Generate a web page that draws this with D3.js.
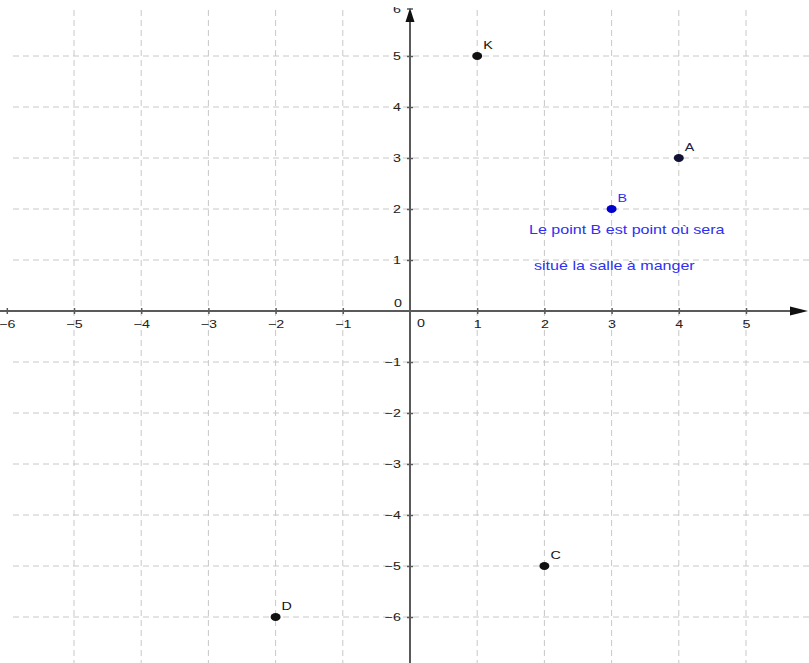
<!DOCTYPE html>
<html>
<head>
<meta charset="utf-8">
<script src="https://cdn.jsdelivr.net/npm/d3@7"></script>
<style>
  html, body { margin: 0; padding: 0; background: #fff; overflow: hidden; }
  svg { display: block; font-family: "Liberation Sans", Arial, sans-serif; }
</style>
</head>
<body>
<div id="plot"></div>
<script>
// points of the plan
var names = ["K", "A", "B", "C", "D"];
var xs = [1, 4, 3, 2, -2];
var ys = [5, 3, 2, -5, -6];
var colors = ["#111111", "#111133", "#0000cc", "#111111", "#111111"];
var labelColors = ["#111111", "#222244", "#2a2af0", "#111111", "#111111"];

// tick values
var xTicks = [-6, -5, -4, -3, -2, -1, 1, 2, 3, 4, 5];
var yTicks = [-6, -5, -4, -3, -2, -1, 1, 2, 3, 4, 5, 6];
var gridX = [-5, -4, -3, -2, -1, 1, 2, 3, 4, 5];
var gridY = [-6, -5, -4, -3, -2, -1, 1, 2, 3, 4, 5];

var note = ["Le point B est point où sera", "situé la salle à manger"];

var W = 809, H = 663;
var sx = 1.3; // the picture is stretched horizontally

var svg = d3.select("div#plot").append("svg")
    .attr("width", W)
    .attr("height", H);

var x = d3.scaleLinear().domain([-6, 6]).range([6.8, 813.2]);
var y = d3.scaleLinear().domain([-7, 6]).range([668, 5]);

// grid
svg.append("g").selectAll("line")
    .data(gridX)
    .enter().append("line")
    .attr("x1", d => x(d)).attr("x2", d => x(d))
    .attr("y1", 10).attr("y2", H)
    .attr("stroke", "#c8c8c8")
    .attr("stroke-width", 1)
    .attr("stroke-dasharray", "6,4");

svg.append("g").selectAll("line")
    .data(gridY)
    .enter().append("line")
    .attr("x1", 13).attr("x2", W)
    .attr("y1", d => y(d)).attr("y2", d => y(d))
    .attr("stroke", "#c8c8c8")
    .attr("stroke-width", 1)
    .attr("stroke-dasharray", "6,4");

var axisColor = "#5a5a5a";

// x axis
var gx = svg.append("g")
    .attr("transform", "translate(0," + y(0) + ")")
    .call(d3.axisBottom(x).tickValues(xTicks).tickSize(3).tickPadding(6));
gx.select(".domain").remove();
gx.selectAll(".tick line").attr("y1", -3).attr("stroke", axisColor).attr("stroke-width", 1.5);
gx.selectAll(".tick text")
    .attr("fill", "#222")
    .attr("transform", "scale(" + sx + ",1)")
    .style("font-size", "11px");

svg.append("line")
    .attr("x1", 0).attr("x2", 796)
    .attr("y1", y(0)).attr("y2", y(0))
    .attr("stroke", axisColor).attr("stroke-width", 2);
svg.append("path")
    .attr("d", "M808," + y(0) + " L790," + (y(0) - 4.5) + " L790," + (y(0) + 4.5) + " Z")
    .attr("fill", "#111");

// y axis
var gy = svg.append("g")
    .attr("transform", "translate(" + x(0) + ",0)")
    .call(d3.axisLeft(y).tickValues(yTicks).tickSize(3).tickPadding(6));
gy.select(".domain").remove();
gy.selectAll(".tick line").attr("x1", 3).attr("stroke", axisColor).attr("stroke-width", 1.5);
gy.selectAll(".tick text")
    .attr("fill", "#222")
    .attr("x", -7)
    .attr("transform", "scale(" + sx + ",1)")
    .style("font-size", "11px");

// the top label is mostly outside the picture, as in the original
svg.append("defs").append("clipPath").attr("id", "top")
  .append("rect").attr("x", -500).attr("y", -2).attr("width", 1000).attr("height", 40);
gy.selectAll(".tick").filter(d => d === 6)
    .attr("transform", "translate(0,9)")
    .attr("clip-path", "url(#top)");

svg.append("line")
    .attr("x1", x(0)).attr("x2", x(0))
    .attr("y1", 20).attr("y2", H)
    .attr("stroke", axisColor).attr("stroke-width", 2);
svg.append("path")
    .attr("d", "M" + x(0) + ",8 L" + (x(0) - 4.5) + ",22 L" + (x(0) + 4.5) + ",22 Z")
    .attr("fill", "#111");

// zero labels
svg.append("text")
    .attr("transform", "translate(" + (x(0) - 8) + "," + (y(0) - 4) + ") scale(" + sx + ",1)")
    .attr("text-anchor", "end")
    .attr("fill", "#222").style("font-size", "11px")
    .text("0");
svg.append("text")
    .attr("transform", "translate(" + (x(0) + 11) + "," + (y(0) + 16) + ") scale(" + sx + ",1)")
    .attr("text-anchor", "middle")
    .attr("fill", "#222").style("font-size", "11px")
    .text("0");

// points
var pts = names.map((n, i) => ({name: n, x: xs[i], y: ys[i], c: colors[i], lc: labelColors[i]}));

svg.selectAll(".pt")
    .data(pts)
    .enter().append("ellipse")
    .attr("class", "pt")
    .attr("cx", d => x(d.x))
    .attr("cy", d => y(d.y))
    .attr("rx", 5)
    .attr("ry", 4)
    .attr("fill", d => d.c);

svg.selectAll(".lbl")
    .data(pts)
    .enter().append("text")
    .attr("class", "lbl")
    .attr("transform", d => "translate(" + (x(d.x) + 6) + "," + (y(d.y) - 7) + ") scale(" + sx + ",1)")
    .attr("fill", d => d.lc)
    .style("font-size", "11px")
    .text(d => d.name);

// note under B
svg.selectAll(".note")
    .data(note)
    .enter().append("text")
    .attr("class", "note")
    .attr("transform", (d, i) => "translate(" + (i === 0 ? 529 : 534) + "," + (234 + i * 36) + ") scale(1.34,1)")
    .attr("fill", "#3030f0")
    .style("font-size", "12px")
    .text(d => d);
</script>
</body>
</html>
